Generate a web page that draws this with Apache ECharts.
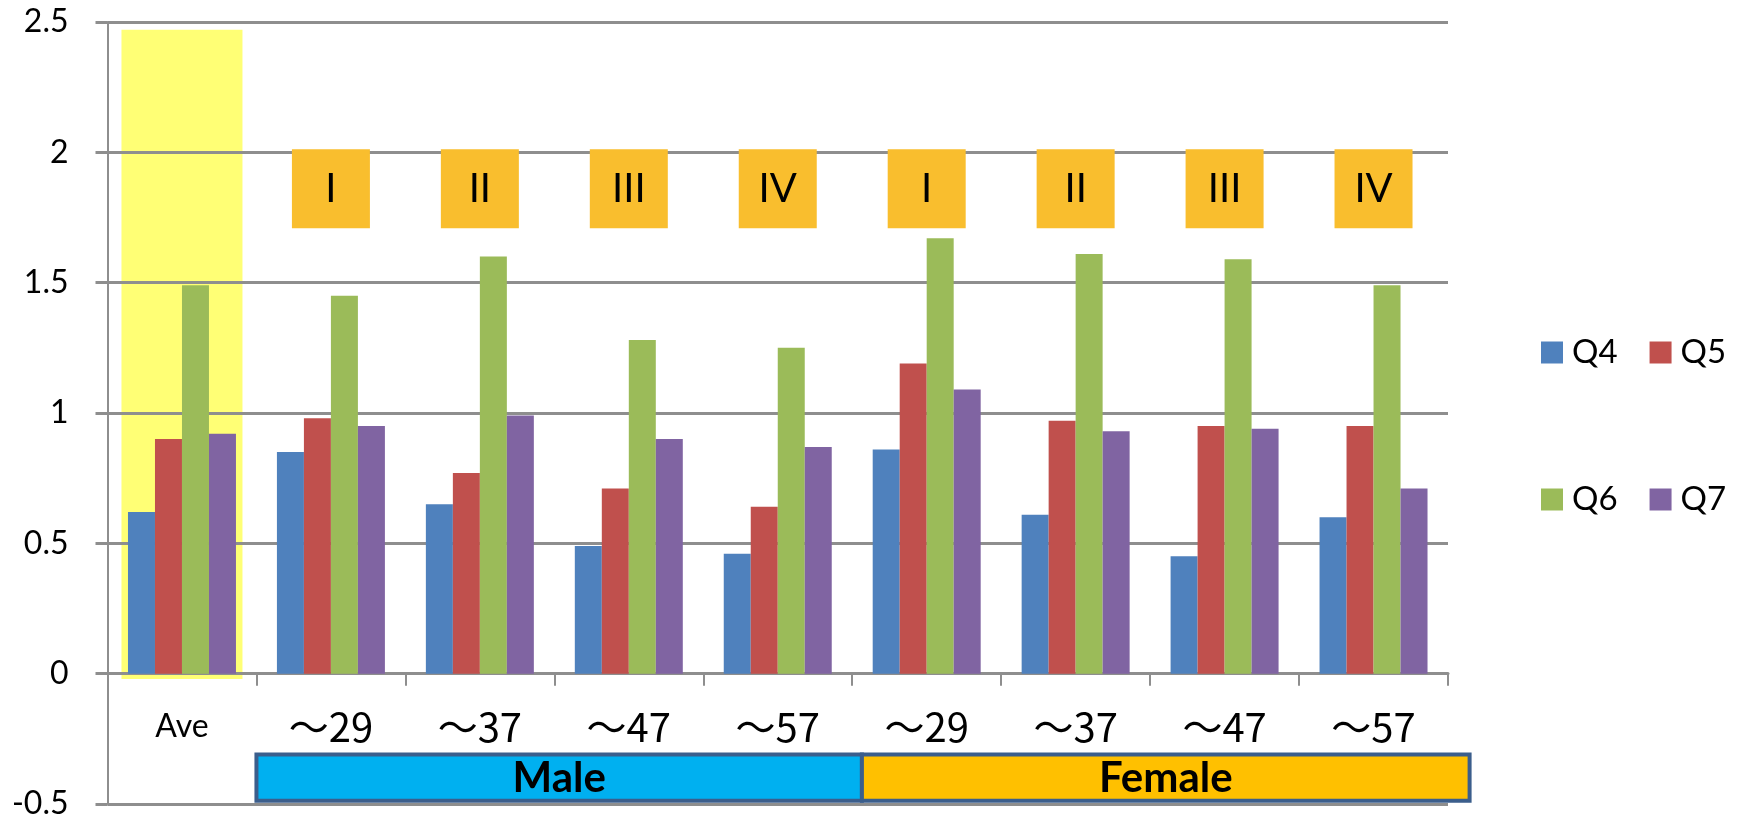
<!DOCTYPE html>
<html>
<head>
<meta charset="utf-8">
<script src="https://cdn.jsdelivr.net/npm/echarts@6/dist/echarts.min.js"></script>
<style>
  html, body { margin: 0; padding: 0; background: #ffffff; }
  #chart { width: 1737px; height: 820px; }
</style>
</head>
<body>
<div id="chart"></div>
<script>
// Category labels along the x axis (average, then male and female age bands)
const categories = ['Ave', '～29', '～37', '～47', '～57', '～29', '～37', '～47', '～57'];

// Scores per question
const q4 = [0.62, 0.85, 0.65, 0.49, 0.46, 0.86, 0.61, 0.45, 0.60];
const q5 = [0.90, 0.98, 0.77, 0.71, 0.64, 1.19, 0.97, 0.95, 0.95];
const q6 = [1.49, 1.45, 1.60, 1.28, 1.25, 1.67, 1.61, 1.59, 1.49];
const q7 = [0.92, 0.95, 0.99, 0.90, 0.87, 1.09, 0.93, 0.94, 0.71];

// Stage tags shown above each age band
const stageTags = ['', 'I', 'II', 'III', 'IV', 'I', 'II', 'III', 'IV'];

// Gender bands under the axis labels
const genderNames = ['Male', 'Female'];
const genderFills = ['#00B0F0', '#FFC000'];

// Value axis ticks
const yMin = -0.5;
const yMax = 2.5;
const yStep = 0.5;

// Vertical extent of the highlight behind the average group
const highlightTop = 2.47;
const highlightBottom = -0.02;

const seriesColors = ['#4F81BD', '#C0504D', '#9BBB59', '#8064A2'];
const gridColor = '#8E8E8E';

// Plot area
const CHART_W = 1737, CHART_H = 820;
const GRID = { left: 107.5, right: 289, top: 22, bottom: 16 };
const plotHeight = CHART_H - GRID.top - GRID.bottom;
// Lift the category axis from the plot bottom up to the zero line
const zeroOffset = -plotHeight * (0 - yMin) / (yMax - yMin);

// Horizontal extents of the gender bands, in category widths from the axis start
const genderEdges = [[1, 5.065], [5.065, 9.145]];
const tagLevel = 1.86;
const bandTop = -0.31;
const bandBottom = -0.488;

const chart = echarts.init(document.getElementById('chart'), null, { renderer: 'canvas' });

const hlTop = categories.map((c, i) => (i === 0 ? highlightTop : '-'));
const hlBottom = categories.map((c, i) => (i === 0 ? highlightBottom : '-'));

const barSeries = [['Q4', q4], ['Q5', q5], ['Q6', q6], ['Q7', q7]].map(([name, data], k) => ({
  name: name,
  type: 'bar',
  data: data,
  barGap: '0%',
  barCategoryGap: '27.5%',
  itemStyle: { color: seriesColors[k] },
  z: 2
}));

const legendBase = {
  orient: 'horizontal',
  left: 1536,
  itemWidth: 22,
  itemHeight: 22,
  itemGap: 32,
  icon: 'rect',
  selectedMode: false,
  textStyle: { fontSize: 33, fontFamily: 'Lato', color: '#000000', padding: [0, 0, 0, 4] }
};

const option = {
  backgroundColor: '#ffffff',
  animation: false,
  grid: {
    left: GRID.left, right: GRID.right, top: GRID.top, bottom: GRID.bottom,
    containLabel: false,
    outerBoundsMode: 'none'
  },
  legend: [
    Object.assign({}, legendBase, { data: ['Q4', 'Q5'], top: 331 }),
    Object.assign({}, legendBase, { data: ['Q6', 'Q7'], top: 478 })
  ],
  xAxis: [
    {
      type: 'category',
      data: categories,
      position: 'bottom',
      offset: zeroOffset,
      axisLine: { onZero: false, lineStyle: { color: gridColor, width: 3 } },
      axisTick: { show: true, length: 12, lineStyle: { color: gridColor, width: 2 } },
      axisLabel: {
        margin: 29,
        interval: 0,
        formatter: (value, index) => (index === 0 ? '{ave|' + value + '}' : '{age|' + value + '}'),
        rich: {
          ave: { fontFamily: 'Lato', fontSize: 32, color: '#000000', lineHeight: 48 },
          age: { fontFamily: '"Noto Sans CJK JP"', fontSize: 40, color: '#000000', lineHeight: 48 }
        }
      },
      splitLine: { show: false }
    },
    {
      type: 'category',
      data: categories,
      show: false
    }
  ],
  yAxis: {
    type: 'value',
    min: yMin,
    max: yMax,
    interval: yStep,
    axisLine: { show: true, lineStyle: { color: gridColor, width: 2 } },
    axisTick: { show: true, length: 12, lineStyle: { color: gridColor, width: 3 } },
    axisLabel: { margin: 39, fontFamily: 'Lato', fontSize: 32, color: '#000000' },
    splitLine: { show: true, lineStyle: { color: gridColor, width: 3 } }
  },
  series: [
    {
      name: 'highlight',
      type: 'bar',
      xAxisIndex: 1,
      stack: 'hl',
      barWidth: 121,
      data: hlTop,
      itemStyle: { color: '#FFFF75' },
      silent: true,
      z: -1
    },
    {
      name: 'highlight-base',
      type: 'bar',
      xAxisIndex: 1,
      stack: 'hl',
      barWidth: 121,
      data: hlBottom,
      itemStyle: { color: '#FFFF75' },
      silent: true,
      z: -1
    },
    ...barSeries,
    {
      name: 'stage',
      type: 'scatter',
      symbol: 'rect',
      symbolSize: [78, 79],
      data: stageTags
        .map((tag, i) => (tag ? { name: tag, value: [i, tagLevel] } : null))
        .filter(Boolean),
      itemStyle: { color: '#F9BE2E', opacity: 1 },
      label: {
        show: true,
        position: 'inside',
        formatter: '{b}',
        fontFamily: 'Lato',
        fontSize: 40,
        color: '#000000'
      },
      silent: true,
      z: 3
    },
    {
      name: 'gender',
      type: 'custom',
      clip: false,
      silent: true,
      z: 4,
      data: genderNames.map((name) => ({ name: name, value: [0, bandTop] })),
      renderItem: (params, api) => {
        const i = params.dataIndex;
        const band = api.size([1, 0])[0];
        const origin = api.coord([0, 0])[0] - band / 2;
        const x1 = origin + genderEdges[i][0] * band;
        const x2 = origin + genderEdges[i][1] * band;
        const yTop = api.coord([0, bandTop])[1];
        const yBot = api.coord([0, bandBottom])[1];
        return {
          type: 'group',
          children: [
            {
              type: 'rect',
              shape: { x: x1, y: yTop, width: x2 - x1, height: yBot - yTop },
              style: { fill: genderFills[i], stroke: '#3B5E8C', lineWidth: 4 }
            },
            {
              type: 'text',
              style: {
                text: genderNames[i],
                x: (x1 + x2) / 2,
                y: (yTop + yBot) / 2 + 1,
                align: 'center',
                verticalAlign: 'middle',
                font: 'bold 42px Lato',
                fill: '#000000'
              }
            }
          ]
        };
      }
    }
  ]
};

chart.setOption(option);
</script>
</body>
</html>
